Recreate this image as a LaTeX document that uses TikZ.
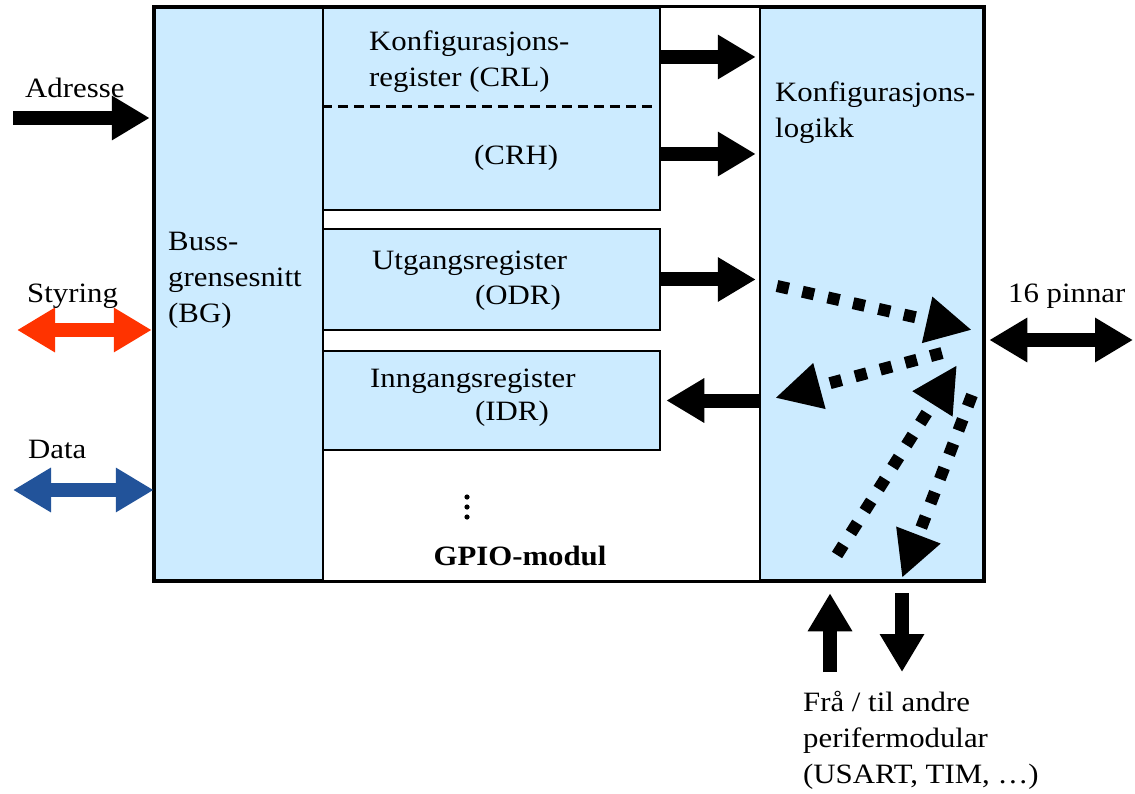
\documentclass[tikz,border=0pt]{standalone}
\usepackage{fontspec}
\setmainfont{Liberation Serif}
\usetikzlibrary{arrows.meta}
\definecolor{regblue}{RGB}{204,235,255}
\definecolor{ctrlred}{RGB}{255,51,0}
\definecolor{datablue}{RGB}{34,83,154}

\tikzset{
  panel/.style={draw=black,line width=2.5pt,fill=regblue,inner sep=0pt},
  txt/.style={inner sep=0pt,align=left,xscale=1.1},
  blk/.style={line width=14pt,-{Triangle[length=38pt,width=42pt]}},
  blkboth/.style={line width=14pt,{Triangle[length=38pt,width=42pt]}-{Triangle[length=38pt,width=42pt]}},
  dots/.style={line width=12pt,dash pattern=on 12pt off 14pt,-{Triangle[length=46pt,width=44pt]}},
}

\begin{document}
\begin{tikzpicture}[x=1pt,y=-1pt,font=\fontsize{28}{36}\selectfont]
\useasboundingbox (0,0) rectangle (1135,794);

% bus interface and configuration logic
\node[panel,minimum width=168pt,minimum height=572pt] (bg) at (239,294) {};
\node[panel,minimum width=223pt,minimum height=572pt] (logic) at (871.5,294) {};

% registers
\node[panel,minimum width=337pt,minimum height=202pt] (crl) at (491.5,109) {};
\draw[line width=3pt,dash pattern=on 10pt off 6pt] ([yshift=2pt]crl.west) -- ([xshift=-5pt,yshift=2pt]crl.east);
\node[panel,minimum width=337pt,minimum height=101pt] (odr) at (491.5,279.5) {};
\node[panel,minimum width=337pt,minimum height=99pt] (idr) at (491.5,400.5) {};

% module frame
\draw[line width=3pt] (bg.north west) rectangle (logic.south east);

% texts (multi-line nodes sit on their last line)
\node[txt,anchor=base west] (bgtxt) at (168,323) {Buss-\\grensesnitt\\(BG)};
\node[txt,anchor=base west] (logtxt) at (775,138) {Konfigurasjons-\\logikk};
\node[txt,anchor=base west] (crltxt) at (369,87) {Konfigurasjons-\\register (CRL)};
\node[txt,anchor=base west] (crhtxt) at (474,165) {(CRH)};
\node[txt,anchor=base west] (odrtxt) at (372,270) {Utgangsregister};
\node[txt,anchor=base west] (odrname) at (475,305) {(ODR)};
\node[txt,anchor=base west] (idrtxt) at (370,387) {Inngangsregister};
\node[txt,anchor=base west] (idrname) at (475,420) {(IDR)};
\coordinate (more) at (467,507);
\foreach \d in {-10,0,10}
  \fill ([yshift=\d pt]more) circle (2.6pt);
\node[txt,anchor=base,font=\fontsize{28}{36}\selectfont\bfseries] (gpio) at (520,565) {GPIO-modul};

\node[txt,anchor=base west] (adrtxt) at (25,98) {Adresse};
\node[txt,anchor=base west] (ctltxt) at (27,303) {Styring};
\node[txt,anchor=base west] (dattxt) at (28,458) {Data};
\node[txt,anchor=base west] (pintxt) at (1008,302) {16 pinnar};
\node[txt,anchor=base west] (pertxt) at (803,783) {Frå / til andre\\perifermodular\\(USART, TIM, …)};

% bus signals
\coordinate (adr) at (13,118);
\draw[blk,shorten >=4pt] (adr) -- (adr -| bg.west);
\coordinate (ctl) at (17,330);
\draw[blkboth,ctrlred,shorten >=2pt] (ctl) -- (ctl -| bg.west);
\coordinate (dat) at (13,490);
\draw[blkboth,datablue] (dat) -- (dat -| bg.west);

% register <-> logic
\coordinate (crlout) at ([yshift=52pt]crl.east);
\draw[blk,shorten >=3pt] (crlout) -- (crlout -| logic.west);
\coordinate (crhout) at ([yshift=-45pt]crl.east);
\draw[blk,shorten >=3pt] (crhout) -- (crhout -| logic.west);
\draw[blk,shorten >=3pt] (odr.east) -- (odr.east -| logic.west);
\draw[blk,shorten >=5pt] (idr.east -| logic.west) -- (idr.east);

% pins and other peripherals
\coordinate (pins) at (1133,340);
\draw[blkboth,shorten <=5pt] (pins -| logic.east) -- (pins);
\coordinate (fromper) at (830,672);
\draw[blk,shorten >=12pt] (fromper) -- (fromper |- logic.south);
\coordinate (toper) at (902,672);
\draw[blk,shorten <=12pt] (toper |- logic.south) -- (toper);

% internal routing in the logic
\coordinate (d1a) at (777,286); \coordinate (d1b) at (972,330);
\coordinate (d2a) at (942,353); \coordinate (d2b) at (775,398);
\coordinate (d3a) at (837,555); \coordinate (d3b) at (957,365);
\coordinate (d4a) at (972,395); \coordinate (d4b) at (902,578);
\draw[dots] (d1a) -- (d1b);
\draw[dots] (d2a) -- (d2b);
\draw[dots] (d3a) -- (d3b);
\draw[dots] (d4a) -- (d4b);
\end{tikzpicture}
\end{document}
